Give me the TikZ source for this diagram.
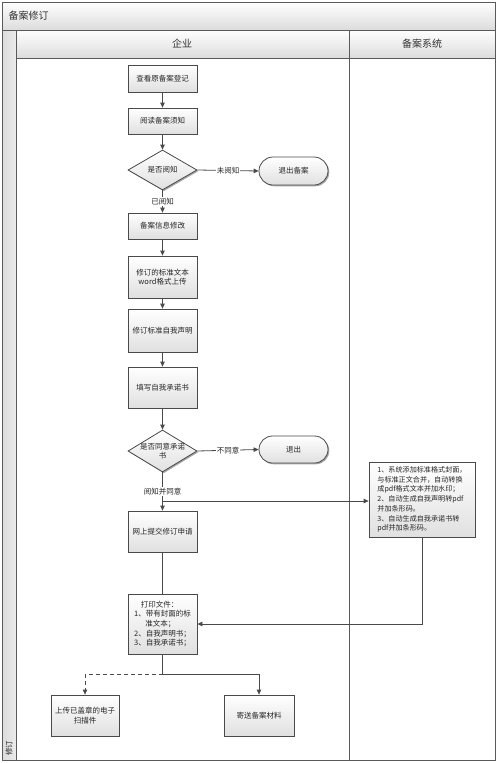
\documentclass[tikz,border=0pt]{standalone}
\usepackage{fontspec}
\setmainfont{Noto Sans CJK SC}
\usetikzlibrary{shapes.geometric,shapes.misc,arrows.meta,shadows}
\definecolor{linec}{HTML}{4A4A4A}
\definecolor{framec}{HTML}{5A5A5A}
\definecolor{boxbot}{HTML}{E0E0E0}
\definecolor{barbot}{HTML}{DCDCDC}
\begin{document}
\begin{tikzpicture}[x=1pt,y=-1pt,
  txt/.style={font=\fontsize{7.5}{9.7}\selectfont, text=black!85},
  box/.style={txt, draw=linec, line width=0.8pt, top color=white, bottom color=boxbot,
    drop shadow={shadow xshift=1.3pt, shadow yshift=-1.3pt, opacity=0.35, fill=black},
    minimum width=69pt, inner sep=1pt, align=center},
  decision/.style={diamond, draw=linec, line width=0.8pt, top color=white, bottom color=boxbot,
    drop shadow={shadow xshift=1.3pt, shadow yshift=-1.3pt, opacity=0.35, fill=black},
    minimum width=69pt, minimum height=40pt, inner sep=0pt},
  terminal/.style={txt, rounded rectangle, draw=linec, line width=0.8pt, top color=white, bottom color=boxbot,
    drop shadow={shadow xshift=1.3pt, shadow yshift=-1.3pt, opacity=0.35, fill=black},
    minimum width=71pt, minimum height=28pt, inner sep=1pt},
  flow/.style={draw=linec, line width=0.8pt, -{Triangle[length=5pt,width=4.5pt]}},
  plain/.style={draw=linec, line width=0.8pt},
  elabel/.style={txt, fill=white, inner sep=0.8pt},
  header/.style={font=\fontsize{10}{12}\selectfont, text=black!80}
]
\useasboundingbox (0,0) rectangle (500,763);
% frame backgrounds
\fill[white] (2,2) rectangle (495,760);
\shade[top color=white, bottom color=barbot] (2,2) rectangle (495,30);
\shade[top color=white, bottom color=barbot] (16,30) rectangle (495,58);
\shade[left color=barbot, right color=white!92!black] (2,30) rectangle (16,760);
\draw[framec, line width=0.8pt] (2,2) rectangle (495,760);
\draw[framec, line width=0.8pt] (2,30) -- (495,30);
\draw[framec, line width=0.8pt] (16,30) -- (16,760);
\draw[framec, line width=0.8pt] (16,58) -- (495,58);
\draw[framec, line width=0.8pt] (349,30) -- (349,760);
\node[header, anchor=west] (title) at (5,16) {备案修订};
\node[header] (h1) at (182,44) {企业};
\node[header] (h2) at (422,44) {备案系统};
\node[txt, rotate=90] (side) at (9,748) {修订};

% nodes
\node[box, minimum height=27pt] (n1) at (162.5,78.5) {查看原备案登记};
\node[box, minimum height=26pt] (n2) at (162.5,121) {阅读备案须知};
\node[decision] (d1) at (162.5,170) {};
\node[txt] (d1t) at (162.5,170) {是否阅知};
\node[terminal] (e1) at (293.5,171) {退出备案};
\node[box, minimum height=26pt] (n3) at (162.5,226) {备案信息修改};
\node[box, minimum height=42pt] (n4) at (162.5,277) {修订的标准文本\\word格式上传};
\node[box, minimum height=43pt] (n5) at (162.5,330.5) {修订标准自我声明};
\node[box, minimum height=41pt] (n6) at (162.5,387.5) {填写自我承诺书};
\node[decision, minimum height=42pt] (d2) at (162.5,451) {};
\node[txt, align=center] (d2t) at (162.5,451) {是否同意承诺\\书};
\node[terminal, minimum height=27pt] (e2) at (293.5,449.5) {退出};
\node[box, minimum height=41pt] (n7) at (162.5,531.5) {网上提交修订申请};
\node[box, minimum width=106pt, minimum height=75pt, align=left, inner sep=1.5pt,
  font=\fontsize{7.1}{9.7}\selectfont] (sys) at (422,499.5)
  {1、系统添加标准格式封面，\\与标准正文合并，自动转换\\成pdf格式文本并加水印；\\2、自动生成自我声明转pdf\\并加条形码。\\3、自动生成自我承诺书转\\pdf并加条形码。};
\node[box, minimum height=60pt, align=left] (n8) at (162.5,624)
  {\hspace*{0.9em}打印文件：\\1、带有封面的标\\\hspace*{1.5em}准文本；\\2、自我声明书；\\3、自我承诺书；};
\node[box, minimum width=68pt, minimum height=41pt] (n9) at (85,715.5) {上传已盖章的电子\\扫描件};
\node[box, minimum width=70pt, minimum height=41pt] (n10) at (259,715.5) {寄送备案材料};

\coordinate (br) at (162.5,501);
\coordinate (jn) at (162.5,674);

% connectors
\draw[flow] (n1) -- (n2);
\draw[flow] (n2) -- (d1);
\draw[flow] (d1.east) -- node[elabel] (l1) {未阅知} (e1.west);
\draw[flow] (d1.south) -- node[elabel] (l2) {已阅知} (n3.north);
\draw[flow] (n3) -- (n4);
\draw[flow] (n4) -- (n5);
\draw[flow] (n5) -- (n6);
\draw[flow] (n6) -- (d2);
\draw[flow] (d2.east) -- node[elabel] (l3) {不同意} (e2.west);
\draw[flow] (d2.south) -- node[elabel, pos=0.5] (l4) {阅知并同意} (n7.north);
\draw[flow] (br) -- (br -| sys.west);
\draw[flow] (sys.south) |- (n8.east);
\draw[plain] (n7) -- (n8);
\draw[plain] (n8.south) -- (jn);
\draw[flow, dashed, dash pattern=on 4pt off 3pt] (jn) -| (n9.north);
\draw[flow] (jn) -| (n10.north);
\end{tikzpicture}
\end{document}
